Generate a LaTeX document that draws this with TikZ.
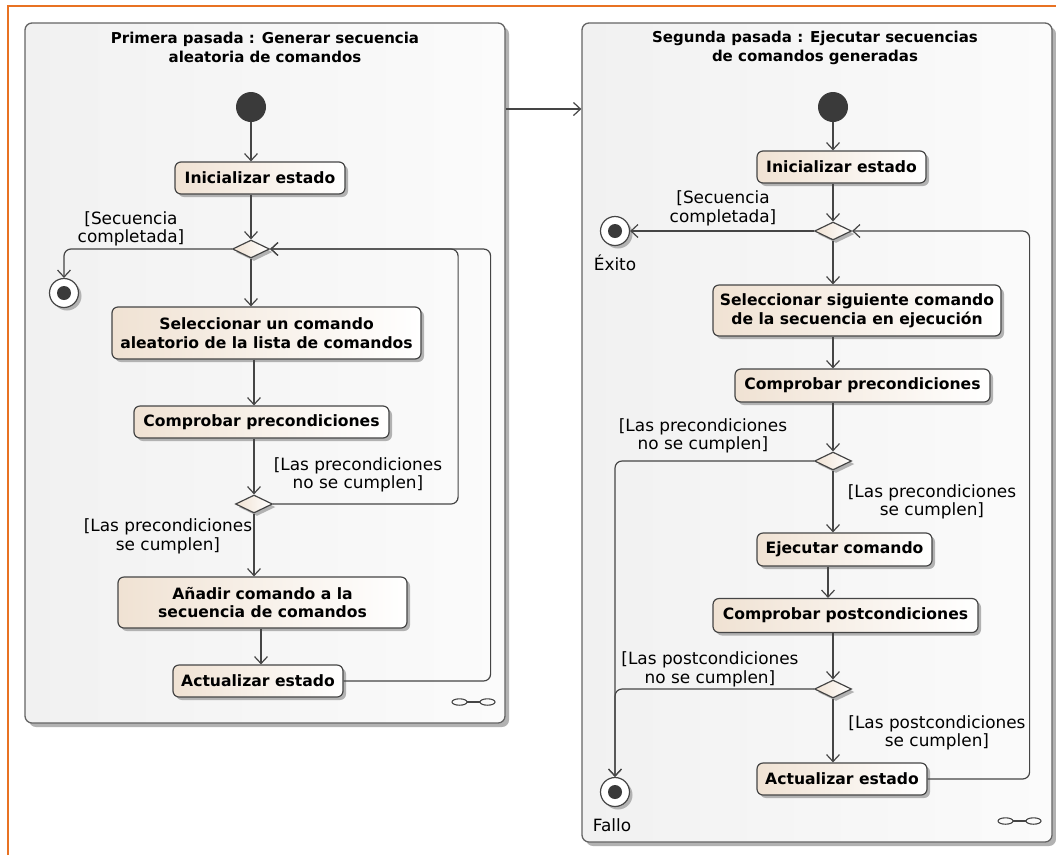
\documentclass[tikz,border=0pt]{standalone}
\usepackage{fontspec}
\setmainfont{DejaVu Sans}
\usetikzlibrary{arrows.meta,shapes.geometric,shadows,calc}
\definecolor{ln}{RGB}{69,69,69}
\definecolor{beige}{RGB}{240,226,211}
\definecolor{frmA}{RGB}{241,241,241}
\definecolor{frmB}{RGB}{251,251,251}
\definecolor{frmline}{RGB}{100,100,100}
\definecolor{orng}{RGB}{232,114,35}
\definecolor{shd}{RGB}{178,178,178}
\definecolor{dotc}{RGB}{58,58,58}
\tikzset{
  conn/.style={draw=ln, line width=1.2pt},
  arr/.style={conn, -{Straight Barb[length=7pt,width=13pt,line width=1.2pt]}},
  loop/.style={arr, rounded corners=7pt},
  shad/.style={drop shadow={shadow xshift=3pt, shadow yshift=-3pt, fill=shd, opacity=1}},
  act/.style={draw=ln, line width=1.2pt, rounded corners=6pt, left color=beige, right color=white,
    inner sep=0pt, align=center, font=\fontsize{15.6}{18.5}\selectfont\bfseries, shad},
  dec/.style={diamond, draw=ln, line width=1.2pt, left color=beige, right color=white,
    minimum width=37pt, minimum height=18pt, inner sep=0pt, shad},
  startnode/.style={circle, fill=dotc, minimum size=30pt, inner sep=0pt},
  endnode/.style={circle, draw=ln, line width=1.2pt, fill=white, minimum size=29pt, inner sep=0pt, shad,
    path picture={\fill[dotc] (path picture bounding box.center) circle (7pt);}},
  frame/.style={draw=frmline, line width=1.3pt, rounded corners=7pt, left color=frmA, right color=frmB,
    inner sep=0pt, drop shadow={shadow xshift=4pt, shadow yshift=-4pt, fill=shd, opacity=1}},
  ttl/.style={align=center, font=\fontsize{15}{19}\selectfont\bfseries, inner sep=0pt},
  lab/.style={align=center, font=\fontsize{16.9}{18.5}\selectfont, inner sep=0pt},
  chainline/.style={draw=ln, line width=1.1pt}
}
\begin{document}
\begin{tikzpicture}[x=1pt,y=-1pt]
\useasboundingbox (0,0) rectangle (1056,855);
\draw[orng, line width=1.5pt] (8,855) -- (8,6) -- (1056,6);

% ---------- frames ----------
\node[frame, minimum width=480pt, minimum height=700pt] (fL) at (265,373) {};
\node[frame, minimum width=470pt, minimum height=819pt] (fR) at (817,432.5) {};
\node[ttl] (tL) at (265,47.5) {Primera pasada : Generar secuencia\\aleatoria de comandos};
\node[ttl] (tR) at (815,47.5) {Segunda pasada : Ejecutar secuencias\\de comandos generadas};

% ---------- left ----------
\node[startnode] (sL) at (251,107) {};
\node[act, minimum width=170pt, minimum height=32pt] (iL) at (260,178) {Inicializar estado};
\node[dec] (d1L) at (251,249) {};
\node[endnode] (fin1) at (64,293) {};
\node[act, minimum width=309pt, minimum height=52pt] (selL) at (266.5,333) {Seleccionar un comando\\aleatorio de la lista de comandos};
\node[act, minimum width=255pt, minimum height=32pt] (cpL) at (261.5,422) {Comprobar precondiciones};
\node[dec] (d2L) at (254,504) {};
\node[act, minimum width=289pt, minimum height=51pt] (anL) at (262.5,602.5) {Añadir comando a la\\secuencia de comandos};
\node[act, minimum width=170pt, minimum height=32pt] (auL) at (258,681) {Actualizar estado};

\node[lab] (lL1) at (131,229) {[Secuencia\\completada]};
\node[lab] (lL2) at (358,475) {[Las precondiciones\\no se cumplen]};
\node[lab] (lL3) at (168,536.5) {[Las precondiciones\\se cumplen]};

\draw[arr] (sL.south) -- (sL.south |- iL.north);
\draw[arr] (iL.south -| d1L) -- (d1L.north);
\draw[arr, rounded corners=7pt] (d1L.west) -| (fin1.north);
\draw[arr] (d1L.south) -- (d1L.south |- selL.north);
\draw[arr] (selL.south -| d2L) -- (cpL.north -| d2L);
\draw[arr] (cpL.south -| d2L) -- (d2L.north);
\draw[loop] (d2L.east) -- ++(185,0) |- (d1L.east);
\draw[arr] (d2L.south) -- (d2L.south |- anL.north);
\draw[arr] ([xshift=-1.5pt]anL.south) -- ([xshift=-1.5pt]anL.south |- auL.north);
\draw[loop] (auL.east) -- ++(147,0) |- (d1L.east);

% chain icon left
\draw[chainline] (459.5,702) ellipse (7.5pt and 3.2pt);
\draw[chainline] (487.5,702) ellipse (7.5pt and 3.2pt);
\draw[ln, line width=1.6pt] (467,702) -- (480,702);

% arrow between frames
\draw[arr] (fL.east |- 0,109) -- (fR.west |- 0,109);

% ---------- right ----------
\node[startnode] (sR) at (833,107) {};
\node[act, minimum width=169pt, minimum height=32pt] (iR) at (841.5,167) {Inicializar estado};
\node[dec] (d1R) at (833,231) {};
\node[endnode] (exito) at (615,231) {};
\node[lab] (exl) at (615,263) {Éxito};
\node[act, minimum width=288pt, minimum height=51pt] (selR) at (857,310.5) {Seleccionar siguiente comando\\de la secuencia en ejecución};
\node[act, minimum width=255pt, minimum height=33pt] (cpR) at (862.5,385.5) {Comprobar precondiciones};
\node[dec] (d2R) at (833,461) {};
\node[act, minimum width=175pt, minimum height=33pt] (ejR) at (844.5,549.5) {Ejecutar comando};
\node[act, minimum width=265pt, minimum height=34pt] (cpoR) at (845.5,615.5) {Comprobar postcondiciones};
\node[dec] (d3R) at (833,689) {};
\node[act, minimum width=170pt, minimum height=32pt] (auR) at (842,779) {Actualizar estado};
\node[endnode] (fallo) at (615,792) {};
\node[lab] (fal) at (612,825) {Fallo};

\node[lab] (lR1) at (723,208.5) {[Secuencia\\completada]};
\node[lab] (lR2) at (703,436) {[Las precondiciones\\no se cumplen]};
\node[lab] (lR3) at (932,502) {[Las precondiciones\\se cumplen]};
\node[lab] (lR4) at (710,669.5) {[Las postcondiciones\\no se cumplen]};
\node[lab] (lR5) at (937,733) {[Las postcondiciones\\se cumplen]};

\draw[arr] (sR.south) -- (sR.south |- iR.north);
\draw[arr] (iR.south -| d1R) -- (d1R.north);
\draw[arr] (d1R.west) -- (exito.east);
\draw[arr] (d1R.south) -- (d1R.south |- selR.north);
\draw[arr] (selR.south -| d1R) -- (cpR.north -| d1R);
\draw[arr] (cpR.south -| d2R) -- (d2R.north);
\draw[arr, rounded corners=7pt] (d2R.west) -| (fallo.north);
\draw[arr] (d2R.south) -- (d2R.south |- ejR.north);
\draw[arr] ([xshift=-16.5pt]ejR.south) -- ([xshift=-16.5pt]ejR.south |- cpoR.north);
\draw[arr] (cpoR.south -| d3R) -- (d3R.north);
\draw[arr, rounded corners=7pt] (d3R.west) -| (fallo.north);
\draw[arr] (d3R.south) -- (d3R.south |- auR.north);
\draw[loop] (auR.east) -- ++(102,0) |- (d1R.east);

% chain icon right
\draw[chainline] (1005.5,821) ellipse (7.5pt and 3.2pt);
\draw[chainline] (1033.5,821) ellipse (7.5pt and 3.2pt);
\draw[ln, line width=1.6pt] (1013,821) -- (1026,821);
\end{tikzpicture}
\end{document}
